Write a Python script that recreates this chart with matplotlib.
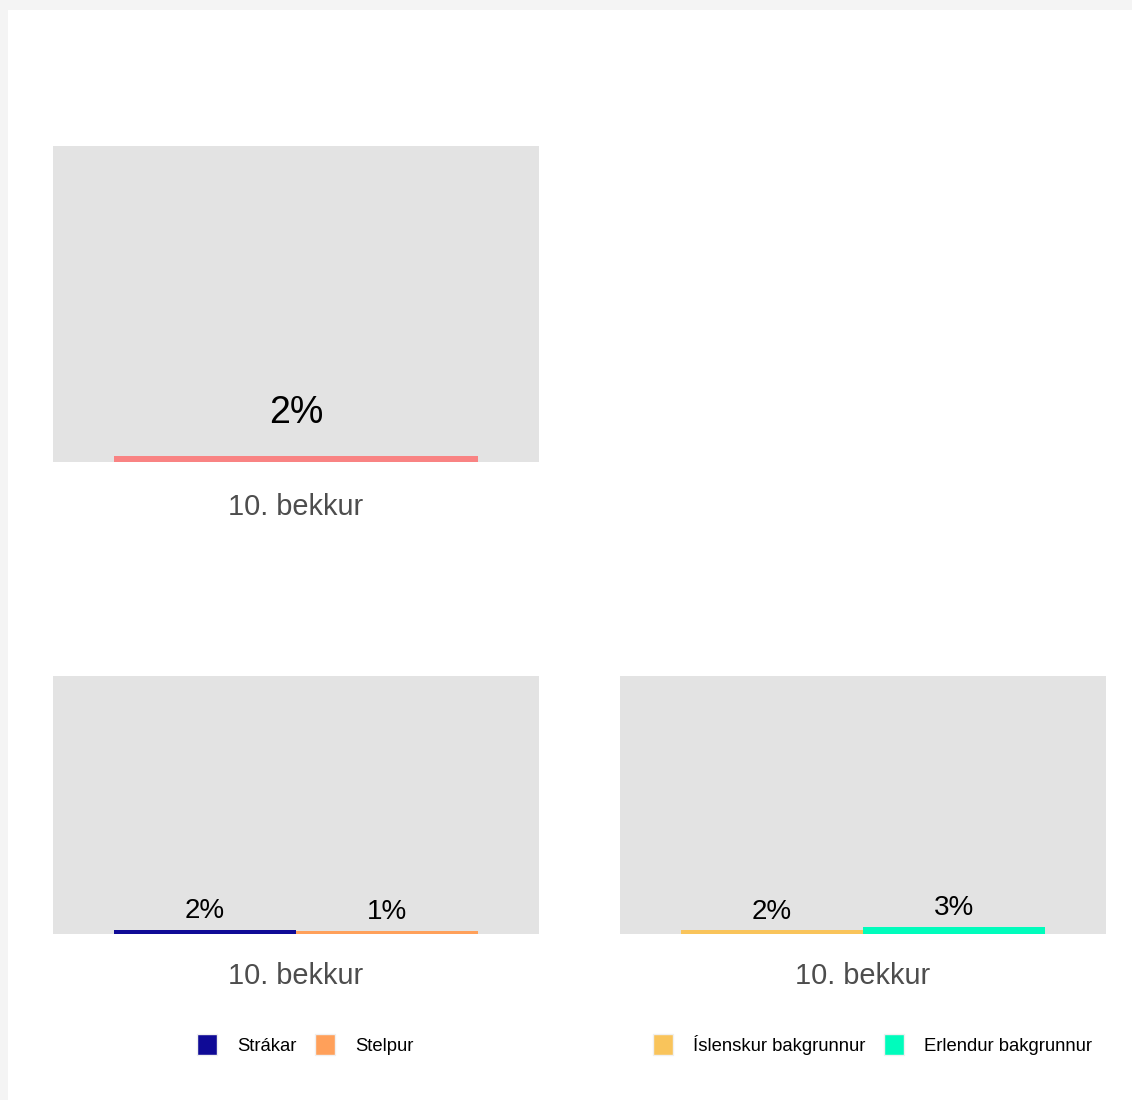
import numpy as np
import matplotlib.pyplot as plt
from matplotlib.patches import Patch, Rectangle

plt.rcParams['font.family'] = ['Liberation Sans', 'DejaVu Sans']

# data
category = "10. bekkur"
total_value = [1.8]
total_label = ["2%"]

gender_groups = ["Strákar", "Stelpur"]
gender_values = [1.7, 1.3]
gender_labels = ["2%", "1%"]

origin_groups = ["Íslenskur bakgrunnur", "Erlendur bakgrunnur"]
origin_values = [1.4, 2.9]
origin_labels = ["2%", "3%"]

total_color = ['#f98383']
gender_colors = ['#0f0a96', '#ffa05a']
origin_colors = ['#f9c45b', '#00fcbc']

W, H = 1132, 1100
fig = plt.figure(figsize=(W / 100, H / 100), dpi=100, facecolor='#f4f4f4')
fig.patches.append(Rectangle((8 / W, 0), 1 - 8 / W, 1 - 10 / H, transform=fig.transFigure,
                             facecolor='white', edgecolor='none', zorder=-10))


def panel(rect, values, labels, colors, label_offset, label_size, pad):
    ax = fig.add_axes(rect)
    ax.set_facecolor('#e3e3e3')
    n = len(values)
    width = 0.9 / n
    xs = [-0.45 + width * (i + 0.5) for i in range(n)]
    ax.bar(xs, values, width=width, color=colors, edgecolor='none')
    for x, v, lab in zip(xs, values, labels):
        ax.annotate(lab, (x, v), xytext=(0, label_offset), textcoords='offset points',
                    ha='center', va='bottom', fontsize=label_size, color='black')
    ax.set_xlim(-0.6, 0.6)
    ax.set_ylim(0, 100)
    ax.set_xticks([0])
    ax.set_xticklabels([category])
    ax.set_yticks([])
    ax.tick_params(axis='x', length=0, labelsize=20.8, labelcolor='#4d4d4d', pad=pad)
    for s in ax.spines.values():
        s.set_visible(False)
    return ax


aw = 486 / W
panel([53 / W, 1 - 462 / H, aw, 316 / H], total_value, total_label, total_color, 18, 27, 22)
panel([53 / W, 1 - 934 / H, aw, 258 / H], gender_values, gender_labels, gender_colors, 4, 20, 20.5)
panel([620 / W, 1 - 934 / H, aw, 258 / H], origin_values, origin_labels, origin_colors, 4, 20, 20.5)


def legend(groups, colors, cx):
    handles = [Patch(facecolor=c, edgecolor='#f0f0f0', linewidth=1, label=g)
               for g, c in zip(groups, colors)]
    fig.legend(handles=handles, loc='center', bbox_to_anchor=(cx / W, 1 - 1044.5 / H),
               ncol=len(groups), frameon=False, fontsize=13.3, handlelength=1.08,
               handleheight=1.4, handletextpad=1.1, columnspacing=1.0)


legend(gender_groups, gender_colors, 305.5)
legend(origin_groups, origin_colors, 872.5)

fig.savefig('out.png', dpi=100, facecolor=fig.get_facecolor())
